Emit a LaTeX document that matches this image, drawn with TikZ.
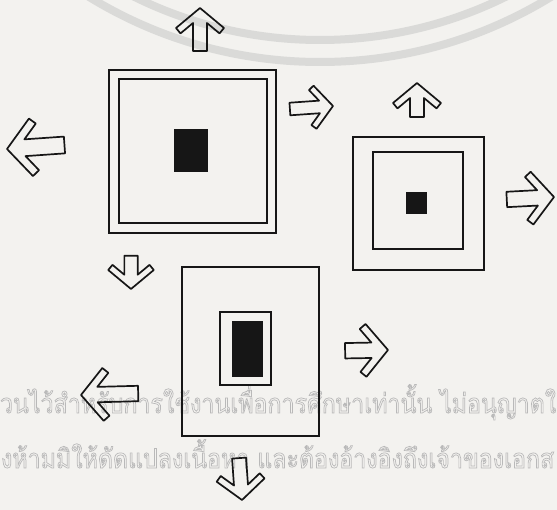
\documentclass[tikz,border=0pt]{standalone}
\usepackage{fontspec}
\newfontfamily\thaifont[Script=Thai, FakeStretch=0.86]{Loma}
\definecolor{paper}{RGB}{243,242,239}
\definecolor{ink}{RGB}{22,22,22}
\definecolor{wmtext}{RGB}{185,185,185}
\definecolor{wmarc}{RGB}{218,218,216}
\tikzset{
  box/.style={draw=ink, line width=1.8pt},
  core/.style={fill=ink, draw=none},
  arrowline/.style={draw=ink, line width=1.7pt, line join=round},
  wmband/.style={draw=wmarc, line width=8pt},
  wmnode/.style={anchor=base west, inner sep=0pt, outer sep=0pt, text=wmtext,
    font=\thaifont\fontsize{27}{27}\selectfont},
  pics/blockarrow/.style={code={
    \path[arrowline] (0,0) -- (-20,-24) -- (-25.4,-19.5) -- (-15,-7) -- (-#1,-7)
      -- (-#1,7) -- (-15,7) -- (-25.4,19.5) -- (-20,24) -- cycle;
  }},
}
\begin{document}
\begin{tikzpicture}[x=1pt, y=-1pt]
  \useasboundingbox (0,0) rectangle (557,510);
  \fill[paper] (0,0) rectangle (557,510);
  % watermark
  \begin{scope}
    \clip (0,0) rectangle (557,510);
    \draw[wmband] (320,-380) circle[radius=420];
    \draw[wmband] (320,-380) circle[radius=442];
    \node[wmnode] (wm1) at (0,413) {\special{pdf:literal direct q 1 Tr 0.7 w}วนไว้สำหรับการใช้งานเพื่อการศึกษาเท่านั้น ไม่อนุญาตใ\special{pdf:literal direct Q}};
    \node[wmnode] (wm2) at (1,468) {\special{pdf:literal direct q 1 Tr 0.7 w}งห้ามมิให้ดัดแปลงเนื้อหา และต้องอ้างอิงถึงเจ้าของเอกส\special{pdf:literal direct Q}};
  \end{scope}
  % square 1
  \draw[box] (109,70) rectangle (276,233);
  \draw[box] (119,79) rectangle (267,223);
  \fill[core] (174,129) rectangle (208,172);
  % square 2
  \draw[box] (353,137) rectangle (484,270);
  \draw[box] (373,152) rectangle (463,249);
  \fill[core] (406,192) rectangle (427,214);
  % square 3
  \draw[box] (182,267) rectangle (319,436);
  \draw[box] (220,312) rectangle (271,385);
  \fill[core] (232,321) rectangle (263,377);
  % arrows
  \pic[rotate=90] at (200,8) {blockarrow=43};
  \pic[rotate=184, scale=1.2] at (7,149) {blockarrow=48};
  \pic[rotate=4, scale=0.9] at (333,106) {blockarrow=48};
  \pic[rotate=90] at (417,83) {blockarrow=34};
  \pic[rotate=3, scale=1.1] at (554,197) {blockarrow=43};
  \pic[rotate=-90, scale=0.95] at (131,289) {blockarrow=35};
  \pic[rotate=1, scale=1.1] at (388,350) {blockarrow=39};
  \pic[rotate=181.5, scale=1.1] at (81,395) {blockarrow=52};
  \pic[rotate=-86] at (242,500) {blockarrow=42};
\end{tikzpicture}
\end{document}
